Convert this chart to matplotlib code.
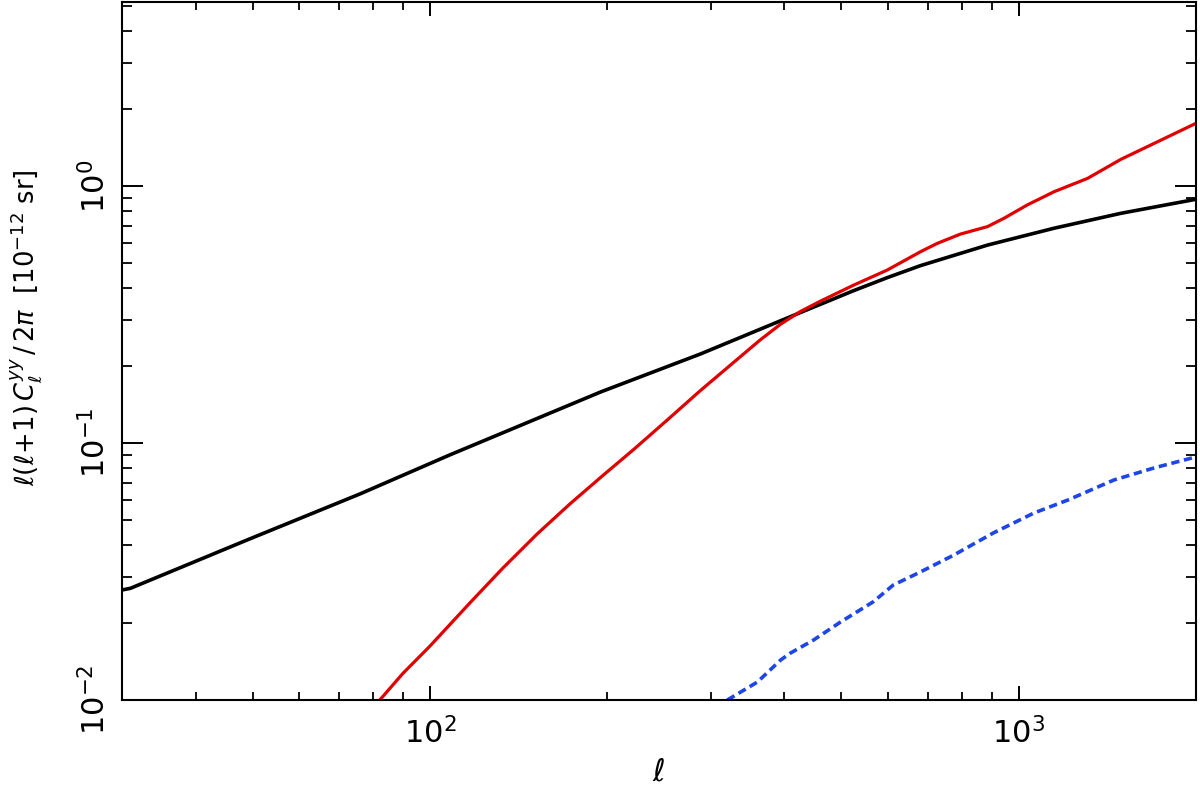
import matplotlib
matplotlib.use("Agg")
import matplotlib.pyplot as plt
from matplotlib.ticker import LogLocator, NullFormatter, FixedLocator

# Black curve
black_ell = [30, 31, 49, 76, 108, 195, 288, 426, 525, 598, 681, 885, 1148, 1491, 2000]
black_val = [0.0268, 0.0272, 0.042, 0.0633, 0.0898, 0.158, 0.222, 0.322, 0.392, 0.440,
             0.490, 0.589, 0.685, 0.783, 0.888]

# Red curve
red_ell = [82.2, 90, 100, 117, 133, 152, 173, 197, 222, 253, 288, 328, 364, 394, 426,
           460, 525, 598, 681, 727, 796, 885, 944, 1034, 1148, 1309, 1491, 1699, 2000]
red_val = [0.0100, 0.0127, 0.0162, 0.0239, 0.0326, 0.0442, 0.0580, 0.0750, 0.0945,
           0.1229, 0.1600, 0.2060, 0.252, 0.290, 0.325, 0.356, 0.412, 0.471, 0.555,
           0.598, 0.650, 0.695, 0.749, 0.844, 0.950, 1.071, 1.27, 1.466, 1.754]

# Blue dashed curve
blue_ell = [320, 360, 394, 409, 448, 498, 566, 612, 681, 775, 906, 1061, 1212, 1451, 1698, 2000]
blue_val = [0.0100, 0.01175, 0.0143, 0.0152, 0.0171, 0.0201, 0.0241, 0.0280, 0.0315,
            0.0366, 0.0447, 0.0534, 0.060, 0.0718, 0.080, 0.0883]

y_major = [0.01, 0.1, 1.0]
y_labels = [r'$10^{-2}$', r'$10^{-1}$', r'$10^{0}$']

plt.rcParams['mathtext.fontset'] = 'dejavusans'
plt.rcParams['font.family'] = ['DejaVu Sans']

fig = plt.figure(figsize=(12, 7.93), dpi=100)
ax = fig.add_axes([122/1200, 1-700/793, (1196-122)/1200, (700-2)/793])

ax.plot(black_ell, black_val, color='black', lw=2.6, solid_joinstyle='round',
        solid_capstyle='butt')
ax.plot(red_ell, red_val, color='#e00000', lw=2.3, solid_joinstyle='round')
ax.plot(blue_ell, blue_val, color='#1e46e6', lw=2.6, linestyle=(0, (2.3, 1.3)))

ax.set_xscale('log')
ax.set_yscale('log')
ax.set_xlim(30, 2000)
ax.set_ylim(0.01, 5.2)

for s in ax.spines.values():
    s.set_linewidth(1.5)

ax.yaxis.set_major_locator(FixedLocator(y_major))
ax.yaxis.set_minor_locator(LogLocator(base=10, subs=range(2, 10), numticks=20))
ax.xaxis.set_minor_locator(LogLocator(base=10, subs=range(2, 10), numticks=20))
ax.xaxis.set_minor_formatter(NullFormatter())
ax.yaxis.set_minor_formatter(NullFormatter())
ax.yaxis.set_major_formatter(NullFormatter())

# y tick labels, rotated as in the original
ytrans = ax.get_yaxis_transform()
for v, lab in zip(y_major, y_labels):
    ax.text(-17/1074, v, lab, transform=ytrans, rotation=90, rotation_mode='anchor',
            ha='center', va='baseline', fontsize=22)

ax.tick_params(axis='x', which='major', direction='in', top=True, bottom=True,
               length=10, width=1.4, labelsize=22, pad=12)
ax.tick_params(axis='x', which='minor', direction='in', top=True, bottom=True,
               length=5.5, width=1.3)
ax.tick_params(axis='y', which='major', direction='in', left=True, right=True,
               length=15, width=1.4)
ax.tick_params(axis='y', which='minor', direction='in', left=True, right=True,
               length=7, width=1.3)

ax.set_xlabel(r'$\ell$', fontsize=22, labelpad=6)
ax.set_ylabel(r'$\ell(\ell\!+\!1)\,C_\ell^{yy}\,/\,2\pi$  [10$^{-12}$ sr]', fontsize=18.5)
ax.yaxis.set_label_coords(-78/1074, (700-328)/698)

fig.savefig('out.png', dpi=100)
